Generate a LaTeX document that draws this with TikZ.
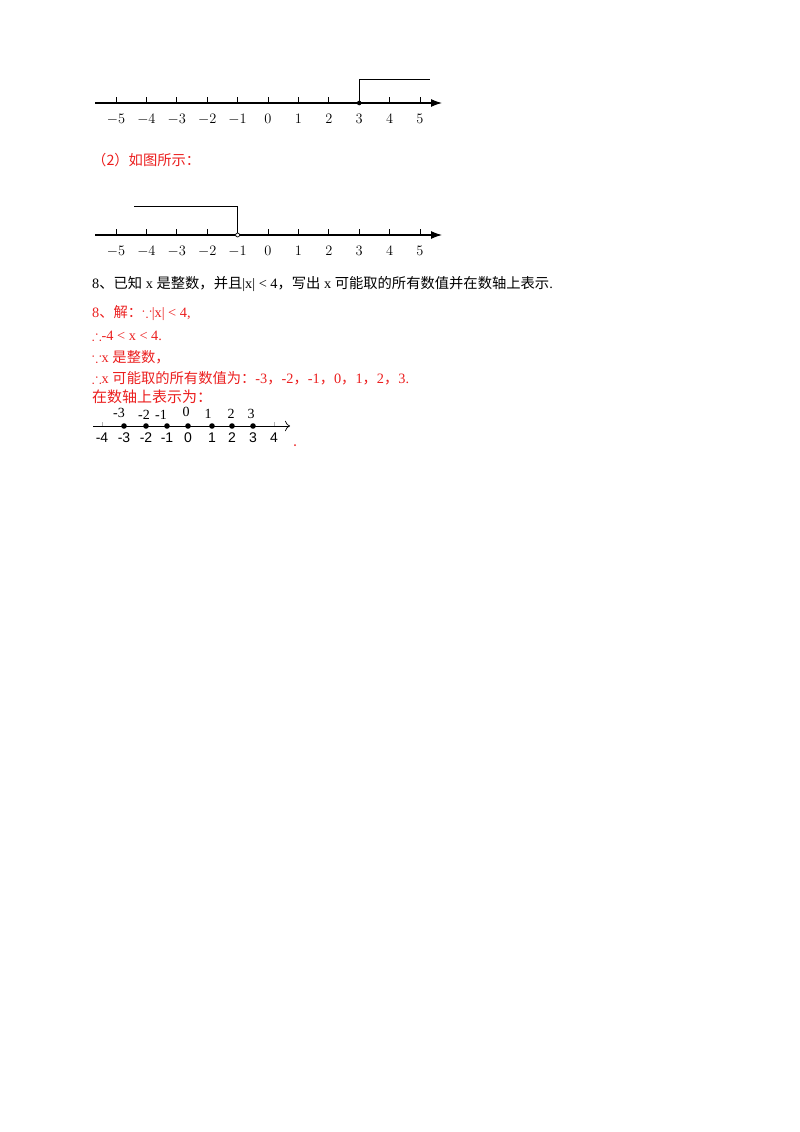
\documentclass[tikz,border=0pt]{standalone}
\usepackage{amssymb}
\usepackage{fontspec}
\setmainfont{Liberation Serif}
\newfontfamily\cjk{Noto Sans CJK SC}
\newfontfamily\lsans{Liberation Sans}
\usetikzlibrary{arrows.meta}
\definecolor{ansred}{RGB}{235,30,30}
\begin{document}
\begin{tikzpicture}[x=1pt,y=-1pt,
  lab/.style={font=\fontsize{14}{14}\selectfont,inner sep=0pt},
  txt/.style={anchor=west,inner sep=0pt,font=\fontsize{14.3}{16}\selectfont},
  red/.style={text=ansred},
  axis/.style={line width=1.1pt,-{Latex[length=11pt,width=8pt]}},
  small/.style={font=\lsans\fontsize{14}{14}\selectfont,inner sep=0pt}]
\useasboundingbox (0,0) rectangle (800,1132);
% axis 1
\coordinate (a1s) at (95,103); \coordinate (a1e) at (442,103);
\draw[axis] (a1s) -- (a1e);
\foreach \i in {-5,...,5}{
  \draw[line width=0.9pt] ({268+30.4*\i},103) -- ({268+30.4*\i},97);
  \node[lab] at ({268+30.4*\i},119) {$\i$};}
\coordinate (p3) at (359.2,103);
\coordinate (p3t) at (359.2,79);
\coordinate (p3e) at (430,79);
\draw[line width=0.9pt] (p3) -- (p3t) -- (p3e);
\fill (p3) circle (2.3pt);
\node[txt,red] (t2) at (92,160) {\cjk （2）如图所示：};
% axis 2
\coordinate (a2s) at (95,235); \coordinate (a2e) at (442,235);
\draw[axis] (a2s) -- (a2e);
\foreach \i in {-5,...,5}{
  \draw[line width=0.9pt] ({268+30.4*\i},235) -- ({268+30.4*\i},229);
  \node[lab] at ({268+30.4*\i},251) {$\i$};}
\coordinate (m1) at (237.6,235);
\coordinate (m1t) at (237.6,206);
\coordinate (m1e) at (134,206);
\draw[line width=1pt] (m1e) -- (m1t) -- (m1);
\draw[fill=white,line width=0.7pt] (m1) circle (2pt);
% text
\node[txt] (q) at (92,284) {8{\cjk 、已知} x {\cjk 是整数，并且}|x| < 4{\cjk ，写出} x {\cjk 可能取的所有数值并在数轴上表示}.};
\node[txt,red] (s1) at (92,313) {8{\cjk 、解：}$\because$|x| < 4,};
\node[txt,red] (s2) at (92,336) {$\therefore$-4 < x < 4.};
\node[txt,red] (s3) at (92,357) {$\because$x {\cjk 是整数，}};
\node[txt,red] (s4) at (92,378) {$\therefore$x {\cjk 可能取的所有数值为：}-3{\cjk ，}-2{\cjk ，}-1{\cjk ，}0{\cjk ，}1{\cjk ，}2{\cjk ，}3.};
\node[txt,red,font=\cjk\fontsize{15}{15}\selectfont] (s5) at (92,397) {在数轴上表示为：};
% small axis
\coordinate (bs) at (93,426); \coordinate (be) at (290,426);
\draw[line width=0.7pt,-{To[length=5pt]}] (bs) -- (be);
\foreach \x in {102,274}{\draw[gray!60,line width=0.4pt] (\x,426) -- (\x,422);}
\foreach \x/\l in {124/-3,146/-2,167/-1,188/0,212/1,232/2,253/3}{
  \fill (\x,426) circle (2.8pt);}
\foreach \x/\l in {102/-4,124/-3,146/-2,167/-1,188/0,212/1,232/2,253/3,274/4}{
  \node[small] at (\x,438) {\l};}
\foreach \x/\l/\y in {119/-3/413,144/-2/415,161/-1/415,186/0/412,208/1/414,231/2/414,251/3/414}{
  \node[lab] at (\x,\y) {\l};}
\fill[ansred] (295,445) circle (1pt);
\end{tikzpicture}
\end{document}
